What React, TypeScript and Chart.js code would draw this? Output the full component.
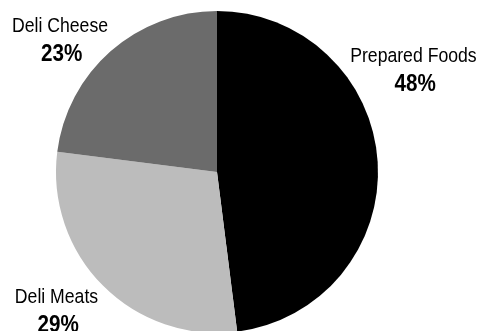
import React, { useEffect, useRef } from "react";
import { Chart, registerables } from "chart.js";

Chart.register(...registerables);

const categories = ["Prepared Foods", "Deli Meats", "Deli Cheese"];
const shares = [48, 29, 23];
const percentLabels = ["48%", "29%", "23%"];
const sliceColors = ["#000000", "#bcbcbc", "#6b6b6b"];
// label anchor (name baseline centre), as multiples of the pie radius from its centre
const labelOffsets = [
  [1.22, -0.683],
  [-0.997, 0.814],
  [-0.975, -0.87],
];

const FONT = '"Liberation Sans", Arial, sans-serif';
const NARROW = 0.86;

const labelPlugin = {
  id: "outsideLabels",
  afterDraw(chart: any) {
    const meta = chart.getDatasetMeta(0);
    const ctx = chart.ctx;
    meta.data.forEach((arc: any, i: number) => {
      const { x, y, outerRadius } = arc.getProps(["x", "y", "outerRadius"], true);
      const lx = x + labelOffsets[i][0] * outerRadius;
      const ly = y + labelOffsets[i][1] * outerRadius;
      ctx.save();
      ctx.fillStyle = "#000";
      ctx.textAlign = "center";
      ctx.textBaseline = "alphabetic";
      ctx.translate(lx, ly);
      ctx.scale(NARROW, 1);
      ctx.font = `20.5px ${FONT}`;
      ctx.fillText(categories[i], 0, 0);
      ctx.font = `bold 24px ${FONT}`;
      ctx.fillText(percentLabels[i], 2, 29);
      ctx.restore();
    });
  },
};

export default function App() {
  const ref = useRef<HTMLCanvasElement>(null);
  useEffect(() => {
    const chart = new Chart(ref.current!, {
      type: "pie",
      data: {
        labels: categories,
        datasets: [
          {
            data: shares,
            backgroundColor: sliceColors,
            borderWidth: 0,
          },
        ],
      },
      options: {
        responsive: false,
        animation: false,
        layout: { padding: { top: 11, bottom: 12, left: 56, right: 103 } },
        plugins: { legend: { display: false }, tooltip: { enabled: false } },
      },
      plugins: [labelPlugin],
    });
    return () => chart.destroy();
  }, []);
  return (
    <div
      style={{
        position: "fixed",
        left: 0,
        top: 0,
        width: 481,
        height: 331,
        overflow: "hidden",
        background: "#fff",
      }}
    >
      <canvas ref={ref} width={481} height={345} style={{ display: "block" }} />
    </div>
  );
}
